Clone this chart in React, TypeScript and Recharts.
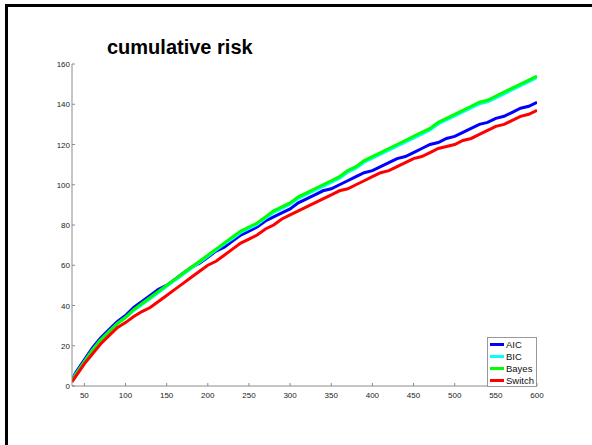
import React from "react";
import { LineChart, Line, XAxis, YAxis } from "recharts";

// sample positions (x axis) and cumulative risk per method
const steps = [
  35, 40, 50, 60, 70, 80, 90, 100, 110, 120, 130, 140, 150, 160, 170, 180, 190, 200, 210, 220,
  230, 240, 250, 260, 270, 280, 290, 300, 310, 320, 330, 340, 350, 360, 370, 380, 390, 400,
  410, 420, 430, 440, 450, 460, 470, 480, 490, 500, 510, 520, 530, 540, 550, 560, 570, 580,
  590, 600,
];

const aic = [
  3, 7, 13, 19, 24, 28, 32, 35, 39, 42, 45, 48, 50, 53, 56, 59, 61, 64, 67, 69, 72, 75, 77, 79,
  82, 84, 86, 88, 91, 93, 95, 97, 98, 100, 102, 104, 106, 107, 109, 111, 113, 114, 116, 118,
  120, 121, 123, 124, 126, 128, 130, 131, 133, 134, 136, 138, 139, 141,
];

const bic = [
  2.5, 6, 12, 18, 23, 27, 31, 34, 37.5, 40.5, 43.5, 46.5, 49.5, 52.5, 55.5, 58.5, 61.5, 64.5,
  67.5, 70.5, 73.3, 76.3, 78.3, 80.3, 83.3, 86.3, 88.3, 90.3, 93.2, 95.2, 97.2, 99.2, 101.2,
  103.2, 106.2, 108.2, 111.2, 113.2, 115.2, 117.2, 119.2, 121.2, 123.2, 125.2, 127.2, 130.2,
  132.2, 134.2, 136.2, 138.2, 140.2, 141.2, 143.2, 145.2, 147.2, 149.2, 151.2, 153.2,
];

const bayes = [
  2.5, 6, 12, 18, 23, 27, 31, 34, 38, 41, 44, 47, 50, 53, 56, 59, 62, 65, 68, 71, 74, 77, 79,
  81, 84, 87, 89, 91, 94, 96, 98, 100, 102, 104, 107, 109, 112, 114, 116, 118, 120, 122, 124,
  126, 128, 131, 133, 135, 137, 139, 141, 142, 144, 146, 148, 150, 152, 154,
];

const switchRisk = [
  2, 5, 11, 16, 21, 25, 29, 31.5, 34.5, 37, 39, 42, 45, 48, 51, 54, 57, 60, 62, 65, 68, 71, 73,
  75, 78, 80, 83, 85, 87, 89, 91, 93, 95, 97, 98, 100, 102, 104, 106, 107, 109, 111, 113, 114,
  116, 118, 119, 120, 122, 123, 125, 127, 129, 130, 132, 134, 135, 137,
];

const xTicks = [50, 100, 150, 200, 250, 300, 350, 400, 450, 500, 550, 600];
const yTicks = [0, 20, 40, 60, 80, 100, 120, 140, 160];

const series = [
  { key: "aic", label: "AIC", color: "#0000ff" },
  { key: "bic", label: "BIC", color: "#00ffff" },
  { key: "bayes", label: "Bayes", color: "#00ff00" },
  { key: "switch", label: "Switch", color: "#ff0000" },
];

const rows = steps.map((x, i) => ({
  x,
  aic: aic[i],
  bic: bic[i],
  bayes: bayes[i],
  switch: switchRisk[i],
}));

const FONT = '"Liberation Sans", Arial, Helvetica, sans-serif';
const AXIS = "#8c8c8c";

// ticks point inward (MATLAB style)
function XTick({ x, y, payload }: any) {
  return (
    <g>
      <line x1={x} x2={x} y1={y} y2={y - 3} stroke={AXIS} />
      <text x={x} y={y + 12} textAnchor="middle" fontSize={8} fill="#222" fontFamily={FONT}>
        {payload.value}
      </text>
    </g>
  );
}

function YTick({ x, y, payload }: any) {
  return (
    <g>
      <line x1={x} x2={x + 3} y1={y} y2={y} stroke={AXIS} />
      <text x={x - 2} y={y + 3} textAnchor="end" fontSize={8} fill="#222" fontFamily={FONT}>
        {payload.value}
      </text>
    </g>
  );
}

// legend sits inside the axes, bottom right, so it is drawn outside recharts' layout
function LegendBox() {
  return (
    <div
      style={{
        position: "absolute",
        left: 487,
        top: 337,
        width: 46,
        border: "1px solid #999",
        background: "#fff",
        fontFamily: FONT,
        fontSize: 9.5,
        color: "#111",
        padding: "0 0 0 2px",
      }}
    >
      {series.map((s) => (
        <div key={s.key} style={{ display: "flex", alignItems: "center", height: 12 }}>
          <span style={{ width: 14, height: 3, background: s.color, marginRight: 2 }} />
          {s.label}
        </div>
      ))}
    </div>
  );
}

export default function App() {
  return (
    <div
      style={{
        position: "absolute",
        left: 0,
        top: 0,
        width: 592,
        height: 445,
        background: "#fff",
        overflow: "hidden",
      }}
    >
      {/* figure frame: top and left edges only */}
      <div
        style={{
          position: "absolute",
          left: 5,
          top: 4,
          right: -10,
          bottom: -10,
          borderTop: "3px solid #000",
          borderLeft: "3px solid #000",
        }}
      />
      <div
        style={{
          position: "absolute",
          left: 107,
          top: 37,
          fontFamily: FONT,
          fontWeight: "bold",
          fontSize: 20,
          lineHeight: "20px",
          color: "#000",
          whiteSpace: "nowrap",
        }}
      >
        cumulative risk
      </div>
      <div style={{ position: "absolute", left: 0, top: 0 }}>
        <LineChart
          width={592}
          height={445}
          data={rows}
          margin={{ top: 64, right: 55, bottom: 29, left: 32 }}
        >
          <XAxis
            dataKey="x"
            type="number"
            domain={[35, 600]}
            ticks={xTicks}
            tick={<XTick />}
            tickLine={false}
            tickSize={0}
            tickMargin={0}
            height={30}
            stroke={AXIS}
            allowDataOverflow
          />
          <YAxis
            type="number"
            domain={[0, 160]}
            ticks={yTicks}
            tick={<YTick />}
            tickLine={false}
            tickSize={0}
            tickMargin={0}
            width={40}
            stroke={AXIS}
          />
          {series.map((s) => (
            <Line
              key={s.key}
              dataKey={s.key}
              name={s.label}
              type="linear"
              stroke={s.color}
              strokeWidth={3}
              dot={false}
              activeDot={false}
              isAnimationActive={false}
            />
          ))}
        </LineChart>
      </div>
      <LegendBox />
    </div>
  );
}
